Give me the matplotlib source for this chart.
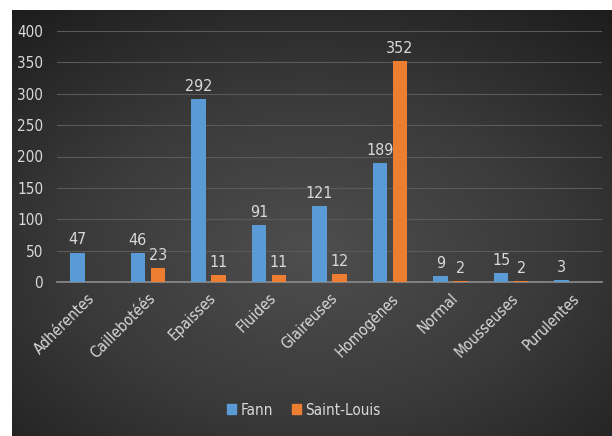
import numpy as np
import matplotlib.pyplot as plt
from matplotlib.patches import Rectangle
from matplotlib.colors import LinearSegmentedColormap

categories = ['Adhérentes', 'Caillebotéés', 'Epaisses', 'Fluides', 'Glaireuses',
              'Homogènes', 'Normal', 'Mousseuses', 'Purulentes']
fann = [47, 46, 292, 91, 121, 189, 9, 15, 3]
saint_louis = [0, 23, 11, 11, 12, 352, 2, 2, 0]
sl_labels = ['', '23', '11', '11', '12', '352', '2', '2', '']

blue = '#5B9BD5'
orange = '#ED7D31'
txt = '#D9D9D9'
font = dict(family='DejaVu Sans', stretch='condensed')

fig = plt.figure(figsize=(6.12, 4.36), dpi=100)
fig.patch.set_facecolor('white')

# dark radial gradient panel
bg = fig.add_axes([12/612, 0, 1 - 12/612, 1 - 10/436])
yy, xx = np.mgrid[-1:1:200j, -1:1:300j]
rr = np.sqrt((xx * 0.85) ** 2 + ((yy - 0.15) * 0.9) ** 2)
cmap = LinearSegmentedColormap.from_list('bg', ['#4e4e4e', '#3a3a3a', '#1c1c1c'])
bg.imshow(rr, cmap=cmap, vmin=0, vmax=1.35, aspect='auto', extent=[0, 1, 0, 1])
bg.set_axis_off()

ax = fig.add_axes([57/612, 1 - 282/436, 545/612, (282 - 31)/436])
ax.patch.set_alpha(0)
x = np.arange(len(categories))
w = 0.24
ax.bar(x - 0.165, fann, w, color=blue, zorder=3)
ax.bar(x + 0.165, saint_louis, w, color=orange, zorder=3)

for i in range(len(categories)):
    ax.text(x[i] - 0.165, fann[i] + 8, str(fann[i]), color=txt, ha='center',
            va='bottom', fontsize=11.5, **font)
    if sl_labels[i]:
        ax.text(x[i] + 0.165, saint_louis[i] + 8, sl_labels[i], color=txt,
                ha='center', va='bottom', fontsize=11.5, **font)

ax.set_xlim(-0.5, len(categories) - 0.5)
ax.set_ylim(0, 400)
ax.set_yticks(range(0, 401, 50))
ax.yaxis.grid(True, color='#5a5a5a', linewidth=0.8, zorder=0)
for s in ['top', 'right', 'left']:
    ax.spines[s].set_visible(False)
ax.spines['bottom'].set_color('#8c8c8c')
ax.spines['bottom'].set_linewidth(1.2)
ax.tick_params(axis='both', length=0, colors=txt, labelsize=11)
ax.set_xticks(x)
ax.set_xticklabels(categories, rotation=45, ha='right', rotation_mode='anchor',
                   fontsize=11, **font)
for lab in ax.get_yticklabels():
    lab.set_fontstretch('condensed')
ax.tick_params(axis='y', pad=10)
ax.tick_params(axis='x', pad=6)

leg = fig.legend(handles=[Rectangle((0, 0), 1, 1, color=blue),
                          Rectangle((0, 0), 1, 1, color=orange)],
                 labels=['Fann', 'Saint-Louis'], loc='center',
                 bbox_to_anchor=(304/612, 1 - 410/436), ncol=2, frameon=False,
                 handlelength=0.6, handleheight=0.6, handletextpad=0.3,
                 columnspacing=1.2, prop=dict(size=11, **font))
for t in leg.get_texts():
    t.set_color(txt)

fig.savefig('out.png', dpi=100)
